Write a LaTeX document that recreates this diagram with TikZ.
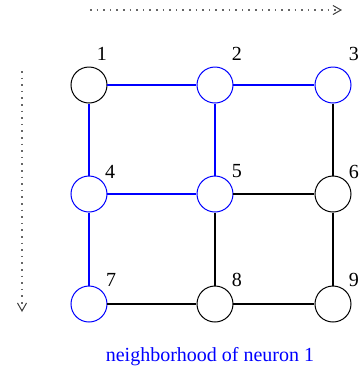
\documentclass[tikz,border=0pt]{standalone}
\usepackage{fontspec}
\setmainfont{Liberation Serif}
\usetikzlibrary{arrows.meta}
\definecolor{nblue}{RGB}{0,0,255}
\tikzset{
  neuron/.style={circle, draw, line width=0.5pt, minimum size=18pt, inner sep=0pt},
  inhood/.style={neuron, draw=nblue},
  outhood/.style={neuron, draw=black},
  link/.style={line width=0.8pt, draw=black},
  nlink/.style={line width=1pt, draw=nblue},
  num/.style={font=\fontsize{10pt}{12pt}\selectfont, inner sep=0pt},
  scan/.style={gray!80!black, line width=0.6pt, dash pattern=on 0.8pt off 2.5pt,
    -{Straight Barb[length=4pt,width=4.5pt,line width=0.5pt,color=black!75]}},
}
\begin{document}
\begin{tikzpicture}[x=0.5pt, y=-0.5pt]
\useasboundingbox (0,0) rectangle (361,371);

% scan directions
\coordinate (hs) at (90,10);
\coordinate (he) at (342,10);
\coordinate (vs) at (22,71);
\coordinate (ve) at (22,312);
\draw[scan] (hs) -- (he);
\draw[scan] (vs) -- (ve);

% neurons
\node[outhood] (n1) at (89,85) {};
\node[inhood]  (n2) at (215,85) {};
\node[inhood]  (n3) at (333,85) {};
\node[inhood]  (n4) at (89,194) {};
\node[inhood]  (n5) at (215,194) {};
\node[outhood] (n6) at (333,194) {};
\node[inhood]  (n7) at (89,304) {};
\node[outhood] (n8) at (215,304) {};
\node[outhood] (n9) at (333,304) {};

% numbers
\node[num] (l1) at (102,54) {1};
\node[num] (l2) at (237,54) {2};
\node[num] (l3) at (354,54) {3};
\node[num] (l4) at (110,171.5) {4};
\node[num] (l5) at (237,171.5) {5};
\node[num] (l6) at (354,171.5) {6};
\node[num] (l7) at (111,280) {7};
\node[num] (l8) at (237,280) {8};
\node[num] (l9) at (354,280) {9};

% connections inside the neighbourhood
\draw[nlink] (n1) -- (n2);
\draw[nlink] (n2) -- (n3);
\draw[nlink] (n1) -- (n4);
\draw[nlink] (n2) -- (n5);
\draw[nlink] (n4) -- (n5);
\draw[nlink] (n4) -- (n7);

% remaining connections
\draw[link] (n3) -- (n6);
\draw[link] (n5) -- (n6);
\draw[link] (n5) -- (n8);
\draw[link] (n6) -- (n9);
\draw[link] (n7) -- (n8);
\draw[link] (n8) -- (n9);

\node[num, text=nblue] (cap) at (210,357) {neighborhood of neuron 1};
\end{tikzpicture}
\end{document}
